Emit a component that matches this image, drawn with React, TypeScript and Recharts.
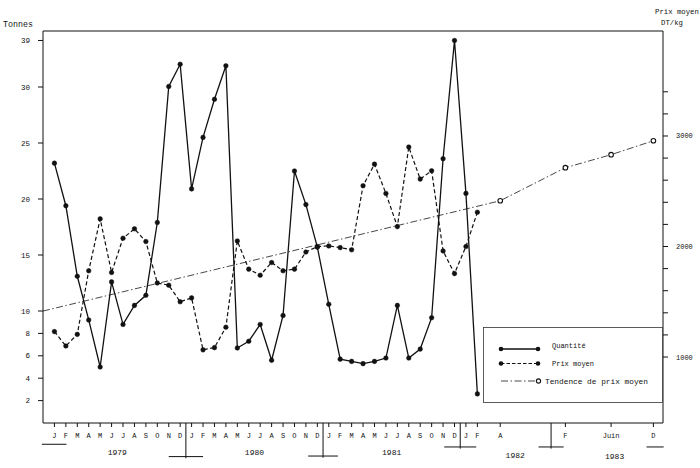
import React from "react";
import { ComposedChart, Line, XAxis, YAxis, ReferenceLine, ReferenceDot, Legend } from "recharts";

const FONT = "'Liberation Mono', 'DejaVu Sans Mono', monospace";
const INK = "#111";

const MONTH_LETTERS = ["J", "F", "M", "A", "M", "J", "J", "A", "S", "O", "N", "D"];
const YEARS = ["1979", "1980", "1981", "1982", "1983"];

// monthly figures, Jan 1979 .. Feb 1982
const quantite = [
  23.2, 19.4, 13.1, 9.2, 5.0, 12.6, 8.8, 10.5, 11.4, 17.9, 30.1, 34.4,
  20.9, 25.5, 28.9, 34.1, 6.7, 7.3, 8.8, 5.6, 9.6, 22.5, 19.5, 15.7,
  10.6, 5.7, 5.5, 5.3, 5.5, 5.8, 10.5, 5.8, 6.6, 9.4, 23.6, 39.0,
  20.5, 2.6,
];
const prixMoyen = [
  1230, 1100, 1205, 1780, 2250, 1765, 2075, 2160, 2045, 1670, 1650, 1500,
  1535, 1065, 1085, 1270, 2050, 1795, 1740, 1855, 1780, 1795, 1950, 2000,
  2005, 1990, 1970, 2550, 2745, 2480, 2180, 2900, 2610, 2685, 1960, 1755,
  2000, 2310,
];

// price trend, months counted from Jan 1979
const trendMonths = [-1, 39, 49, 53, 59];
const trendValues = [1416, 2414, 2713, 2831, 2957];

// ticks after Feb 1982
const laterTickMonths = [39, 49, 53, 59];
const laterTickLabels = ["A", "F", "Juin", "D"];

const leftTicks = [2, 4, 6, 8, 10, 15, 20, 25, 30, 39];
const rightTicks = [1000, 1200, 1400, 1600, 1800, 2000, 2200, 2400, 2600, 2800, 3000, 3200, 3400];

// the drawing squeezes the time axis after April 1982
const X_BREAKS = [
  [39, 39],
  [47.5, 43.45],
  [49, 44.7],
  [53, 48.7],
  [59, 52.4],
];
const axisX = (m: number) => {
  if (m <= X_BREAKS[0][0]) return m;
  for (let i = 1; i < X_BREAKS.length; i++) {
    const [m0, s0] = X_BREAKS[i - 1];
    const [m1, s1] = X_BREAKS[i];
    if (m <= m1 || i === X_BREAKS.length - 1) return s0 + ((m - m0) * (s1 - s0)) / (m1 - m0);
  }
  return m;
};

// left axis is squeezed above 30 t
const SQUEEZE = 0.4616;
const squeeze = (v: number) => (v <= 30 ? v : 30 + (v - 30) * SQUEEZE);
const unsqueeze = (s: number) => (s <= 30 ? s : 30 + (s - 30) / SQUEEZE);

const X_DOMAIN: [number, number] = [-1, 53.24];

const mainRows = quantite.map((q, i) => ({ t: i, q, p: prixMoyen[i] }));
const trendRows = trendMonths.map((t, i) => ({ t, trend: trendValues[i] }));

const monthTickLabels = new Map<number, string>();
mainRows.forEach((r) => monthTickLabels.set(axisX(r.t), MONTH_LETTERS[r.t % 12]));
laterTickMonths.forEach((m, i) => monthTickLabels.set(axisX(m), laterTickLabels[i]));
const monthTicks = Array.from(monthTickLabels.keys());

// year captions sit a little lower for the last two years
const yearDrop = [2.6, 2.6, 2.6, 2.85, 3.0];

// year brackets under the axis: month boundary, half width (slots), depth (left-axis units)
const yearMarks = [
  { t: 11.5, half: 1.5, depth: 3.0 },
  { t: 23.5, half: 1.3, depth: 2.95 },
  { t: 35.5, half: 1.4, depth: 2.14 },
  { t: 47.5, half: 1.1, depth: 2.14 },
];

const MonthTick = ({ x, y, payload }: any) => (
  <text x={x} y={y + 10.5} textAnchor="middle" fontSize={7} fontFamily={FONT} fill={INK}>
    {monthTickLabels.get(payload.value) ?? ""}
  </text>
);

const TrendDot = (props: any) => {
  const { cx, cy, index } = props;
  if (index === 0) return <g key={`td-${index}`} />;
  return <circle key={`td-${index}`} cx={cx} cy={cy} r={2.3} fill="#fff" stroke={INK} strokeWidth={1.1} />;
};

const LegendBox = () => (
  <svg width={180} height={76} style={{ display: "block" }}>
    <rect x={0.5} y={0.5} width={179} height={75} fill="#fff" stroke="#333" strokeWidth={0.8} />
    <line x1={18} x2={55} y1={22} y2={22} stroke={INK} strokeWidth={1.3} />
    <circle cx={18} cy={22} r={2.3} fill={INK} />
    <circle cx={55} cy={22} r={2.3} fill={INK} />
    <text x={69} y={20.5} fontSize={7} fontFamily={FONT} fill={INK}>Quantité</text>
    <line x1={18} x2={55} y1={36.5} y2={36.5} stroke={INK} strokeWidth={1.2} strokeDasharray="3.5 2" />
    <circle cx={18} cy={36.5} r={2.3} fill={INK} />
    <circle cx={55} cy={36.5} r={2.3} fill={INK} />
    <text x={69} y={38.5} fontSize={7} fontFamily={FONT} fill={INK}>Prix moyen</text>
    <line x1={18} x2={53} y1={54} y2={54} stroke="#333" strokeWidth={0.9} strokeDasharray="7 2.5 1.5 2.5" />
    <circle cx={55.5} cy={54} r={2.1} fill="#fff" stroke={INK} strokeWidth={1.1} />
    <text x={62} y={56.5} fontSize={7.8} fontFamily={FONT} fill={INK}>Tendence de prix moyen</text>
  </svg>
);

export default function App() {
  return (
    <div style={{ position: "absolute", left: 0, top: 0, width: 700, height: 468, background: "#fff", fontFamily: FONT }}>
      <div style={{ position: "absolute", left: 3, top: 20, fontSize: 8.3, color: INK }}>Tonnes</div>
      <div style={{ position: "absolute", left: 655, top: 8, fontSize: 7.3, color: INK, whiteSpace: "nowrap" }}>Prix moyen</div>
      <div style={{ position: "absolute", left: 661, top: 19, fontSize: 7.3, color: INK }}>DT/kg</div>
      <ComposedChart width={700} height={468} margin={{ top: 31, right: 0, bottom: 29, left: 0 }}>
        <XAxis
          xAxisId="m"
          type="number"
          dataKey={(d: any) => axisX(d.t)}
          domain={X_DOMAIN}
          allowDataOverflow
          ticks={monthTicks}
          interval={0}
          tick={<MonthTick />}
          tickSize={4}
          tickMargin={0}
          height={16}
          stroke={INK}
        />
        <YAxis
          yAxisId="left"
          type="number"
          domain={[0, 35]}
          allowDataOverflow
          ticks={leftTicks.map(squeeze)}
          interval={0}
          tickFormatter={(s: number) => String(Math.round(unsqueeze(s)))}
          width={43}
          tickSize={5}
          tickMargin={8}
          stroke={INK}
          tick={{ fontSize: 7.5, fontFamily: FONT, fill: INK }}
        />
        <YAxis
          yAxisId="right"
          orientation="right"
          type="number"
          domain={[403, 3950]}
          allowDataOverflow
          ticks={rightTicks}
          interval={0}
          tickFormatter={(v: number) => (v % 1000 === 0 ? String(v) : "")}
          width={37}
          tickSize={5}
          tickMargin={8}
          stroke={INK}
          tick={{ fontSize: 7, fontFamily: FONT, fill: INK }}
        />
        <ReferenceLine xAxisId="m" yAxisId="left" y={35} stroke={INK} ifOverflow="visible" />
        {yearMarks.map((mk) => (
          <ReferenceLine
            key={`v-${mk.t}`}
            xAxisId="m"
            yAxisId="left"
            ifOverflow="visible"
            stroke={INK}
            segment={[
              { x: axisX(mk.t), y: 0 },
              { x: axisX(mk.t), y: -mk.depth - 0.15 },
            ]}
          />
        ))}
        {yearMarks.map((mk) => (
          <ReferenceLine
            key={`h-${mk.t}`}
            xAxisId="m"
            yAxisId="left"
            ifOverflow="visible"
            stroke={INK}
            segment={[
              { x: axisX(mk.t) - mk.half, y: -mk.depth },
              { x: axisX(mk.t) + mk.half, y: -mk.depth },
            ]}
          />
        ))}
        <ReferenceLine
          xAxisId="m"
          yAxisId="left"
          ifOverflow="visible"
          stroke={INK}
          segment={[
            { x: -1.1, y: -1.9 },
            { x: 1.05, y: -1.9 },
          ]}
        />
        <ReferenceLine
          xAxisId="m"
          yAxisId="left"
          ifOverflow="visible"
          stroke={INK}
          segment={[
            { x: 51.8, y: -2.14 },
            { x: 53.3, y: -2.14 },
          ]}
        />
        {YEARS.map((yr, i) => (
          <ReferenceDot
            key={yr}
            xAxisId="m"
            yAxisId="left"
            x={axisX(i * 12 + 5.5)}
            y={-yearDrop[i]}
            r={0}
            stroke="none"
            fill="none"
            ifOverflow="visible"
            label={{ value: yr, position: "center", fontSize: 8, fontFamily: FONT, fill: INK }}
          />
        ))}
        <Line
          xAxisId="m"
          yAxisId="right"
          data={trendRows}
          dataKey="trend"
          stroke="#333"
          strokeWidth={0.9}
          strokeDasharray="7 2.5 1.5 2.5"
          dot={TrendDot}
          isAnimationActive={false}
        />
        <Line
          xAxisId="m"
          yAxisId="right"
          data={mainRows}
          dataKey="p"
          stroke={INK}
          strokeWidth={1.2}
          strokeDasharray="4 2.5"
          dot={{ r: 2.3, fill: INK, stroke: INK, strokeWidth: 0.5, strokeDasharray: "" }}
          isAnimationActive={false}
        />
        <Line
          xAxisId="m"
          yAxisId="left"
          data={mainRows}
          dataKey={(d: any) => squeeze(d.q)}
          stroke={INK}
          strokeWidth={1.3}
          dot={{ r: 2.3, fill: INK, stroke: INK, strokeWidth: 0.5 }}
          isAnimationActive={false}
        />
        <Legend
          layout="horizontal"
          verticalAlign="middle"
          align="center"
          content={() => <LegendBox />}
          wrapperStyle={{ position: "absolute", left: 483, top: 327, width: 180, height: 76 }}
        />
      </ComposedChart>
    </div>
  );
}
